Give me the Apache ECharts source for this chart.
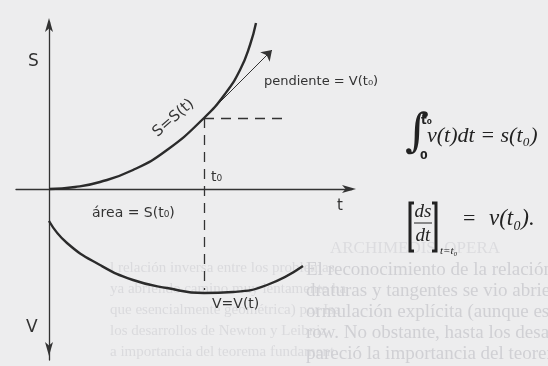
<!DOCTYPE html>
<html><head><meta charset="utf-8">
<script src="https://cdn.jsdelivr.net/npm/echarts@6/dist/echarts.min.js"></script>
<style>html,body{margin:0;padding:0;background:#ededee}#c{width:548px;height:366px}</style>
</head><body><div id="c"></div>
<script>
// position curve s(t): [t, s]
const sCurve = [[0,0],[0.26,0.02],[0.51,0.07],[0.84,0.19],[1.18,0.39],[1.55,0.71],[1.76,0.95],[1.91,1.19],[2.01,1.44],[2.07,1.66]];
// velocity curve v(t), drawn downward: [t, -v]
const vCurve = [[0,-0.32],[0.18,-0.54],[0.51,-0.76],[0.84,-0.91],[1.18,-0.99],[1.55,-1.04],[1.84,-1.03],[2.18,-0.96],[2.54,-0.77]];
const t0 = 1.55;
const s0 = 0.71;
const tangentEnd = [2.23, 1.39];
const dashH = [2.33, 0.71];
const dashVEnd = -1.01;
const ghostA = [
 "El reconocimiento de la relación inversa entre los problemas de",
 "draturas y tangentes se vio abriendo camino muy lentamente hasta",
 "ormulación explícita (aunque esencialmente geométrica) por Isaac",
 "row. No obstante, hasta los desarrollos de Newton y Leibniz no",
 "pareció la importancia del teorema fundamental"
];
const ghostB = [
 "l relación inversa entre los problemas",
 "ya abriendo camino muy lentamente ha",
 "que esencialmente geométrica) por Isa",
 "los desarrollos de Newton y Leibniz",
 "a importancia del teorema fundament"
];

const chart = echarts.init(document.getElementById('c'), null, {renderer:'canvas'});
const ink = '#2b2b2b';
const axisCommon = {
  type:'value', axisTick:{show:false}, axisLabel:{show:false}, splitLine:{show:false}
};
const graphics = [];
ghostA.forEach((s,i)=>graphics.push({type:'text', left:306, top:261+i*21, z:-1, silent:true,
  style:{text:s, font:'19px "Liberation Serif"', fill:'#d0d0d4'}}));
ghostB.forEach((s,i)=>graphics.push({type:'text', left:110, top:261+i*21, z:-2, silent:true,
  style:{text:s, font:'15px "Liberation Serif"', fill:'#dadadd'}}));
graphics.push({type:'text', left:330, top:240, z:-2, silent:true,
  style:{text:'ARCHIMEDIS  OPERA', font:'17px "Liberation Serif"', fill:'#dcdcdf'}});
const lab = (txt, x, y, size, extra) => Object.assign({type:'text', x:x, y:y,
  style:{text:txt, font: size+'px "DejaVu Sans"', fill:'#333', textVerticalAlign:'middle'}}, extra||{});
graphics.push(lab('S', 28, 62, 17));
graphics.push(lab('V', 26, 328, 17));
graphics.push(lab('t', 337, 206, 15));
graphics.push(lab('t₀', 211, 177, 14));
graphics.push(lab('pendiente = V(t₀)', 264, 82, 13));
graphics.push(lab('área = S(t₀)', 92, 213, 14));
graphics.push(lab('V=V(t)', 212, 304, 14));
graphics.push({type:'text', x:160, y:140, rotation:0.72,
  style:{text:'S=S(t)', font:'15px "DejaVu Sans"', fill:'#333', textVerticalAlign:'bottom'}});
// integral formula
graphics.push({type:'text', x:405, y:134, style:{text:'∫', font:'italic 46px "DejaVu Serif"', fill:'#222', textVerticalAlign:'middle'}});
graphics.push({type:'text', x:421, y:121, style:{text:'t₀', font:'bold 12px "DejaVu Sans"', fill:'#222', textVerticalAlign:'middle'}});
graphics.push({type:'text', x:420, y:156, style:{text:'0', font:'bold 11px "DejaVu Sans"', fill:'#222', textVerticalAlign:'middle'}});
graphics.push({type:'text', x:427, y:136, style:{text:'v(t)dt = s(t₀)', font:'italic 22px "Liberation Serif"', fill:'#222', textVerticalAlign:'middle'}});
// derivative formula
graphics.push({type:'polyline', shape:{points:[[414,203],[410,203],[410,251],[414,251]]}, style:{stroke:'#222', lineWidth:3, fill:null}});
graphics.push({type:'polyline', shape:{points:[[432,203],[436,203],[436,251],[432,251]]}, style:{stroke:'#222', lineWidth:3, fill:null}});
graphics.push({type:'text', x:423, y:212, style:{text:'ds', font:'italic 19px "Liberation Serif"', fill:'#222', textAlign:'center', textVerticalAlign:'middle'}});
graphics.push({type:'line', shape:{x1:414, y1:223, x2:432, y2:223}, style:{stroke:'#222', lineWidth:1}});
graphics.push({type:'text', x:423, y:236, style:{text:'dt', font:'italic 19px "Liberation Serif"', fill:'#222', textAlign:'center', textVerticalAlign:'middle'}});
graphics.push({type:'text', x:440, y:251, style:{text:'t=t₀', font:'italic 11px "Liberation Serif"', fill:'#222', textVerticalAlign:'middle'}});
graphics.push({type:'text', x:463, y:219, style:{text:'=', font:'22px "Liberation Serif"', fill:'#222', textVerticalAlign:'middle'}});
graphics.push({type:'text', x:489, y:219, style:{text:'v(t₀).', font:'italic 23px "Liberation Serif"', fill:'#222', textVerticalAlign:'middle'}});

chart.setOption({
  backgroundColor:'#ededee',
  animation:false,
  grid:{left:16, right:196, top:22, bottom:6},
  xAxis:Object.assign({}, axisCommon, {min:-0.33, max:3.03,
    axisLine:{show:true, onZero:true, symbol:['none','arrow'], symbolSize:[6,14], symbolOffset:[0,4], lineStyle:{color:'#333', width:1.3}}}),
  yAxis:Object.assign({}, axisCommon, {min:-1.71, max:1.67,
    axisLine:{show:true, onZero:true, symbol:['arrow','arrow'], symbolSize:[6,14], symbolOffset:[4,4], lineStyle:{color:'#333', width:1.3}}}),
  graphic:graphics,
  series:[
    {type:'line', data:sCurve, smooth:true, symbol:'none', lineStyle:{color:ink, width:2.4}},
    {type:'line', data:vCurve, smooth:true, symbol:'none', lineStyle:{color:ink, width:2.4}},
    {type:'lines', coordinateSystem:'cartesian2d', symbol:['none','arrow'], symbolSize:10,
      lineStyle:{color:'#333', width:1, opacity:1},
      data:[{coords:[[t0,s0], tangentEnd]}]},
    {type:'lines', coordinateSystem:'cartesian2d', symbol:'none',
      lineStyle:{color:'#333', width:1.3, type:[10,7], opacity:1},
      data:[{coords:[[t0,s0], dashH]}, {coords:[[t0,s0],[t0,dashVEnd]]}]}
  ]
});
</script></body></html>
